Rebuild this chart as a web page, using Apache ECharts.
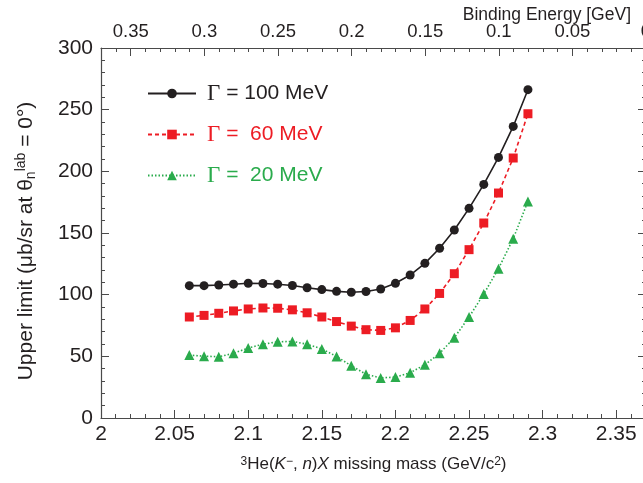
<!DOCTYPE html>
<html><head><meta charset="utf-8">
<script src="https://cdn.jsdelivr.net/npm/echarts@6/dist/echarts.min.js"></script>
<style>html,body{margin:0;padding:0;background:#fff;overflow:hidden}#c{width:643px;height:483px}</style>
</head><body><div id="c"></div>
<script>
const mass = [2.06,2.07,2.08,2.09,2.10,2.11,2.12,2.13,2.14,2.15,2.16,2.17,2.18,2.19,2.20,2.21,2.22,2.23,2.24,2.25,2.26,2.27,2.28,2.29];
const gamma100 = [107.3,107.3,107.8,108.5,109.3,109.1,108.5,107.4,105.6,104.1,102.7,102.0,102.6,104.6,109.2,115.9,125.4,137.6,152.4,170.0,189.4,211.3,236.4,266.2];
const gamma60 = [81.9,83.2,84.9,86.8,88.4,89.2,89.0,87.7,85.3,81.9,78.2,74.5,71.6,71.0,73.1,79.1,88.4,101.0,117.0,136.5,158.1,182.4,210.8,246.7];
const gamma20 = [51.0,50.1,49.7,52.4,56.8,59.8,61.8,62.1,59.8,56.0,49.9,42.4,35.5,32.5,33.2,36.7,43.2,52.4,65.1,81.9,100.5,121.1,145.4,175.6];
const seriesNames = ['Γ = 100 MeV', 'Γ =  60 MeV', 'Γ =  20 MeV'];
const threshold = 2.3702; // K- + p + p mass threshold (GeV)

const FONT = 'Liberation Sans, Arial, sans-serif';
const AXIS_COLOR = '#4a4a4a';
const TEXT_COLOR = '#231f20';
const BLACK = '#231f20', RED = '#ed1c24', GREEN = '#2aab4c';

function pairs(vals){ return mass.map((m,i)=>[m, vals[i]]); }

const chart = echarts.init(document.getElementById('c'), null, {renderer:'canvas'});
const tickCommon = {inside:true, length:8, lineStyle:{color:AXIS_COLOR, width:1}};
const minorCommon = {show:true, splitNumber:5, length:4, lineStyle:{color:AXIS_COLOR, width:1}};
const lineCommon = {show:true, onZero:false, lineStyle:{color:AXIS_COLOR, width:1.2}};

chart.setOption({
  animation:false,
  backgroundColor:'#fff',
  textStyle:{fontFamily:FONT},
  title:{text:'Binding Energy [GeV]', right:7, top:1,
    textStyle:{fontFamily:FONT, fontSize:17.5, fontWeight:'normal', color:TEXT_COLOR}},
  grid:{left:101, width:545, top:48, height:370, containLabel:false, outerBoundsMode:'none'},
  legend:{
    left:142, top:77, orient:'vertical', itemWidth:48, itemHeight:12, itemGap:18,
    formatter: n => n.replace('Γ','{g|Γ}'),
    data: seriesNames.map((n,i)=>({name:n, textStyle:{color:[BLACK,RED,GREEN][i],
      rich:{g:{fontFamily:'Liberation Serif, DejaVu Serif, serif', fontSize:23, color:[BLACK,RED,GREEN][i]}}}})),
    textStyle:{fontFamily:FONT, fontSize:21, lineHeight:20, padding:[0,0,0,6]}
  },
  xAxis:[
    {type:'value', position:'bottom', min:2, max:threshold, interval:0.05,
     axisLine:lineCommon, axisTick:tickCommon, minorTick:minorCommon, splitLine:{show:false},
     axisLabel:{color:TEXT_COLOR, fontSize:21, margin:6, fontFamily:FONT, showMaxLabel:false},
     name:'{sup|3}He({it|K}{sup|\u2212}, {it|n}){it|X} missing mass (GeV/c{sup|2})',
     nameLocation:'middle', nameGap:38,
     nameTextStyle:{color:TEXT_COLOR, fontSize:17, fontFamily:FONT,
       rich:{sup:{fontSize:12, verticalAlign:'top', lineHeight:12, padding:[0,0,8,0], color:TEXT_COLOR},
             it:{fontStyle:'italic', fontSize:17, color:TEXT_COLOR}}}},
    {type:'value', position:'top', min:0, max:threshold-2, interval:0.05, inverse:true,
     axisLine:lineCommon, axisTick:tickCommon, minorTick:minorCommon, splitLine:{show:false},
     axisLabel:{color:TEXT_COLOR, fontSize:18.5, margin:7, fontFamily:FONT}}
  ],
  yAxis:[
    {type:'value', position:'left', min:0, max:300, interval:50,
     axisLine:lineCommon, axisTick:tickCommon, minorTick:minorCommon, splitLine:{show:false},
     axisLabel:{color:TEXT_COLOR, fontSize:21, margin:8, fontFamily:FONT},
     name:'Upper limit (\u03bcb/sr at \u03b8{sub|n}{sup|lab} = 0\u00b0)',
     nameLocation:'middle', nameGap:62, nameRotate:90,
     nameTextStyle:{color:TEXT_COLOR, fontSize:21, fontFamily:FONT, padding:[0,16,0,0],
       rich:{sup:{fontSize:14, padding:[0,0,11,0], color:TEXT_COLOR},
             sub:{fontSize:14, padding:[9,0,0,0], color:TEXT_COLOR}}}},
    {type:'value', position:'right', min:0, max:300, interval:50,
     axisLine:lineCommon, axisTick:tickCommon, minorTick:minorCommon, splitLine:{show:false},
     axisLabel:{show:false}}
  ],
  series:[
    {name:seriesNames[0], type:'line', xAxisIndex:0, yAxisIndex:0, data:pairs(gamma100),
     symbol:'circle', symbolSize:9, itemStyle:{color:BLACK},
     lineStyle:{color:BLACK, width:1.6, type:'solid'}},
    {name:seriesNames[1], type:'line', xAxisIndex:0, yAxisIndex:0, data:pairs(gamma60),
     symbol:'rect', symbolSize:9, itemStyle:{color:RED},
     lineStyle:{color:RED, width:1.6, type:[4,3]}},
    {name:seriesNames[2], type:'line', xAxisIndex:0, yAxisIndex:0, data:pairs(gamma20),
     symbol:'triangle', symbolSize:10, itemStyle:{color:GREEN},
     lineStyle:{color:GREEN, width:1.6, type:[1.5,2]}}
  ]
});
</script></body></html>
